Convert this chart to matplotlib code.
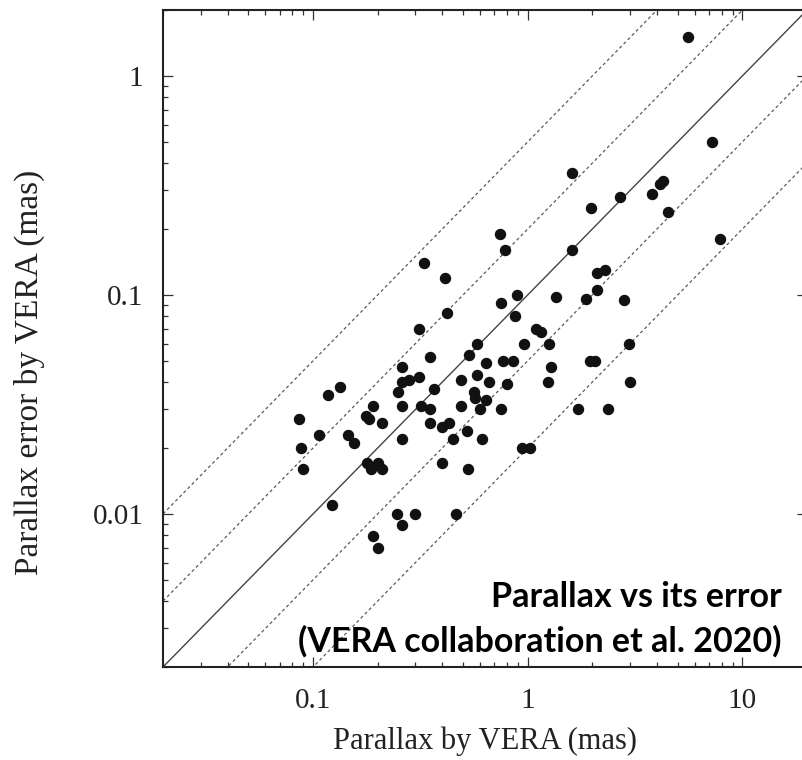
import numpy as np
import matplotlib.pyplot as plt
from matplotlib.ticker import LogLocator, FixedLocator, FuncFormatter, NullFormatter

# parallax (mas) and its error (mas)
parallax = [5.6, 7.2, 1.6, 4.26, 4.15, 3.8, 2.7, 1.97, 4.5, 7.9,
            0.74, 0.78, 1.6, 0.33, 0.41, 2.1, 2.3, 0.89, 2.1, 1.35,
            1.86, 2.8, 0.75, 0.42, 0.87, 0.31, 1.09, 1.15, 0.58, 0.96,
            1.25, 2.95, 0.53, 0.35, 0.64, 0.77, 0.85, 1.29, 1.95, 2.05,
            0.26, 0.58, 0.66, 0.80, 1.24, 3.0, 0.26, 0.28, 0.31, 0.25,
            0.365, 0.49, 0.56, 0.57, 0.64, 0.133, 0.118, 0.26, 0.32, 0.35,
            0.49, 0.60, 0.75, 1.71, 2.36, 0.19, 0.176, 0.183, 0.21, 0.35,
            0.40, 0.43, 0.086, 0.107, 0.145, 0.155, 0.26, 0.45, 0.52, 0.61,
            0.94, 1.02, 0.088, 0.090, 0.178, 0.20, 0.187, 0.21, 0.40, 0.525,
            0.123, 0.245, 0.30, 0.465, 0.26, 0.19, 0.20]
parallax_err = [1.5, 0.50, 0.36, 0.33, 0.32, 0.29, 0.28, 0.25, 0.24, 0.18,
                0.19, 0.16, 0.16, 0.14, 0.12, 0.126, 0.13, 0.10, 0.105, 0.098,
                0.096, 0.095, 0.092, 0.083, 0.080, 0.070, 0.070, 0.068, 0.060, 0.060,
                0.060, 0.060, 0.053, 0.052, 0.049, 0.050, 0.050, 0.047, 0.050, 0.050,
                0.047, 0.043, 0.040, 0.039, 0.040, 0.040, 0.040, 0.041, 0.042, 0.036,
                0.037, 0.041, 0.036, 0.034, 0.033, 0.038, 0.035, 0.031, 0.031, 0.030,
                0.031, 0.030, 0.030, 0.030, 0.030, 0.031, 0.028, 0.027, 0.026, 0.026,
                0.025, 0.026, 0.027, 0.023, 0.023, 0.021, 0.022, 0.022, 0.024, 0.022,
                0.020, 0.020, 0.020, 0.016, 0.017, 0.017, 0.016, 0.016, 0.017, 0.016,
                0.011, 0.010, 0.010, 0.010, 0.0089, 0.0079, 0.0070]

ratios = [2, 5, 20, 50]       # dashed lines: error = parallax / ratio
main_ratio = 10               # solid line
x_range = [0.02, 20]
y_range = [0.002, 2]
x_major = [0.1, 1, 10]
y_major = [0.01, 0.1, 1]

plt.rcParams['font.family'] = 'Liberation Serif'

fig = plt.figure(figsize=(8.02, 7.6), dpi=100)
ax = fig.add_axes([163 / 802, 93 / 760, 644 / 802, 657 / 760])
ax.set_xscale('log')
ax.set_yscale('log')

xs = np.array(x_range)
for r in ratios:
    ax.plot(xs, xs / r, color='#5a5a5a', lw=0.9, dashes=(2.5, 2.2))
ax.plot(xs, xs / main_ratio, color='#444444', lw=1.0)

ax.scatter(parallax, parallax_err, s=52, color='#111111', zorder=3)

ax.set_xlim(x_range)
ax.set_ylim(y_range)

fmt = FuncFormatter(lambda v, _: f'{v:g}')
ax.xaxis.set_major_locator(FixedLocator(x_major))
ax.yaxis.set_major_locator(FixedLocator(y_major))
ax.xaxis.set_major_formatter(fmt)
ax.yaxis.set_major_formatter(fmt)
ax.xaxis.set_minor_locator(LogLocator(base=10, subs=np.arange(2, 10), numticks=20))
ax.yaxis.set_minor_locator(LogLocator(base=10, subs=np.arange(2, 10), numticks=20))
ax.xaxis.set_minor_formatter(NullFormatter())
ax.yaxis.set_minor_formatter(NullFormatter())

ax.tick_params(which='both', direction='in', top=True, right=True, color='#333333', width=0.9)
ax.tick_params(which='major', length=7.5, labelsize=21, labelcolor='#222222')
ax.tick_params(which='minor', length=3.5)
ax.tick_params(axis='x', which='major', pad=15)
ax.tick_params(axis='y', which='major', pad=14)
for sp in ax.spines.values():
    sp.set_linewidth(1.5)
    sp.set_color('#222222')

ax.set_xlabel('Parallax by VERA (mas)', fontsize=22, labelpad=9, color='#222222')
ax.set_ylabel('Parallax error by VERA (mas)', fontsize=24, color='#222222')
ax.yaxis.set_label_coords(-0.183, 0.449)

fig.text(782 / 802, 153 / 760, 'Parallax vs its error', ha='right', va='baseline',
         fontsize=24.5, fontweight='bold', family=['Lato', 'DejaVu Sans'])
fig.text(782 / 802, 108 / 760, '(VERA collaboration et al. 2020)', ha='right', va='baseline',
         fontsize=24.5, fontweight='bold', family=['Lato', 'DejaVu Sans'])

fig.savefig('out.png', dpi=100)
